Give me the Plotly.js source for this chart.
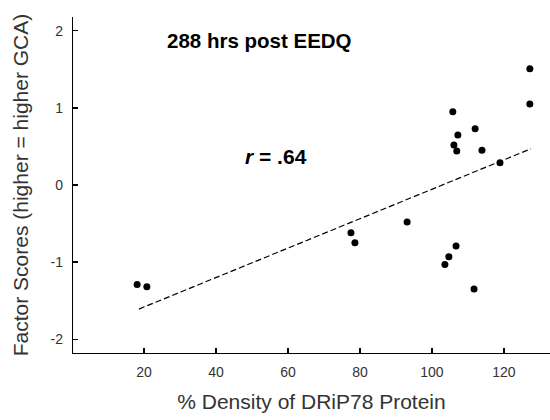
<!DOCTYPE html>
<html>
<head>
<meta charset="utf-8">
<script src="https://cdn.plot.ly/plotly-3.0.1.min.js"></script>
<style>html,body{margin:0;padding:0;background:#fff}#chart{width:550px;height:420px}</style>
</head>
<body>
<div id="chart"></div>
<script>
// Observed data points (% Density of DRiP78 Protein vs Factor Scores)
var densityX = [18.1, 20.8, 77.5, 78.6, 93.1, 106.7, 104.7, 103.6, 111.7,
                127.2, 127.2, 105.8, 107.2, 106.1, 106.9, 112.0, 113.9, 118.9];
var factorY  = [-1.29, -1.32, -0.62, -0.75, -0.48, -0.79, -0.93, -1.03, -1.35,
                1.51, 1.05, 0.95, 0.65, 0.52, 0.44, 0.73, 0.45, 0.29];
// Regression line endpoints
var fitX = [18.6, 127.5];
var fitY = [-1.61, 0.47];
var xTicks = [20, 40, 60, 80, 100, 120];
var yTicks = [-2, -1, 0, 1, 2];

var font = 'Liberation Sans, Arial, sans-serif';

var traces = [
  {x: fitX, y: fitY, type: 'scatter', mode: 'lines',
   line: {color: '#000', width: 1.2, dash: '6px,3px'}, hoverinfo: 'skip'},
  {x: densityX, y: factorY, type: 'scatter', mode: 'markers',
   marker: {color: '#000', size: 7, symbol: 'circle'}}
];

var layout = {
  width: 550, height: 420,
  margin: {l: 73, r: 0, t: 17, b: 67},
  paper_bgcolor: '#fff', plot_bgcolor: '#fff',
  showlegend: false,
  font: {family: font, color: '#333'},
  xaxis: {
    range: [0.28, 132.8], tickvals: xTicks, ticktext: xTicks.map(String),
    showgrid: false, zeroline: false, showline: true, linecolor: '#000', linewidth: 1.2,
    ticks: 'inside', ticklen: 5, tickcolor: '#000', tickwidth: 1.2,
    tickfont: {size: 14, color: '#333'}, ticklabelstandoff: 6,
    title: {text: '% Density of DRiP78 Protein', font: {size: 21, color: '#333'}, standoff: 15}
  },
  yaxis: {
    range: [-2.18, 2.18], tickvals: yTicks, ticktext: yTicks.map(String),
    showgrid: false, zeroline: false, showline: true, linecolor: '#000', linewidth: 1.2,
    ticks: 'inside', ticklen: 5, tickcolor: '#000', tickwidth: 1.2,
    tickfont: {size: 14, color: '#333'}, ticklabelstandoff: 6,
    title: {text: 'Factor Scores (higher = higher GCA)', font: {size: 21, color: '#333'}, standoff: 16}
  },
  annotations: [
    {text: '<b>288 hrs post EEDQ</b>', xref: 'paper', yref: 'paper',
     x: (165 - 73) / 477, y: (353 - 41) / 336, xanchor: 'left', yanchor: 'middle',
     showarrow: false, font: {size: 20.5, color: '#000', family: font}},
    {text: '<b><i>r</i> = .64</b>', xref: 'paper', yref: 'paper',
     x: (243 - 73) / 477, y: (353 - 156) / 336, xanchor: 'left', yanchor: 'middle',
     showarrow: false, font: {size: 21, color: '#000', family: font}}
  ]
};

Plotly.newPlot('chart', traces, layout, {displayModeBar: false, staticPlot: true});
</script>
</body>
</html>
